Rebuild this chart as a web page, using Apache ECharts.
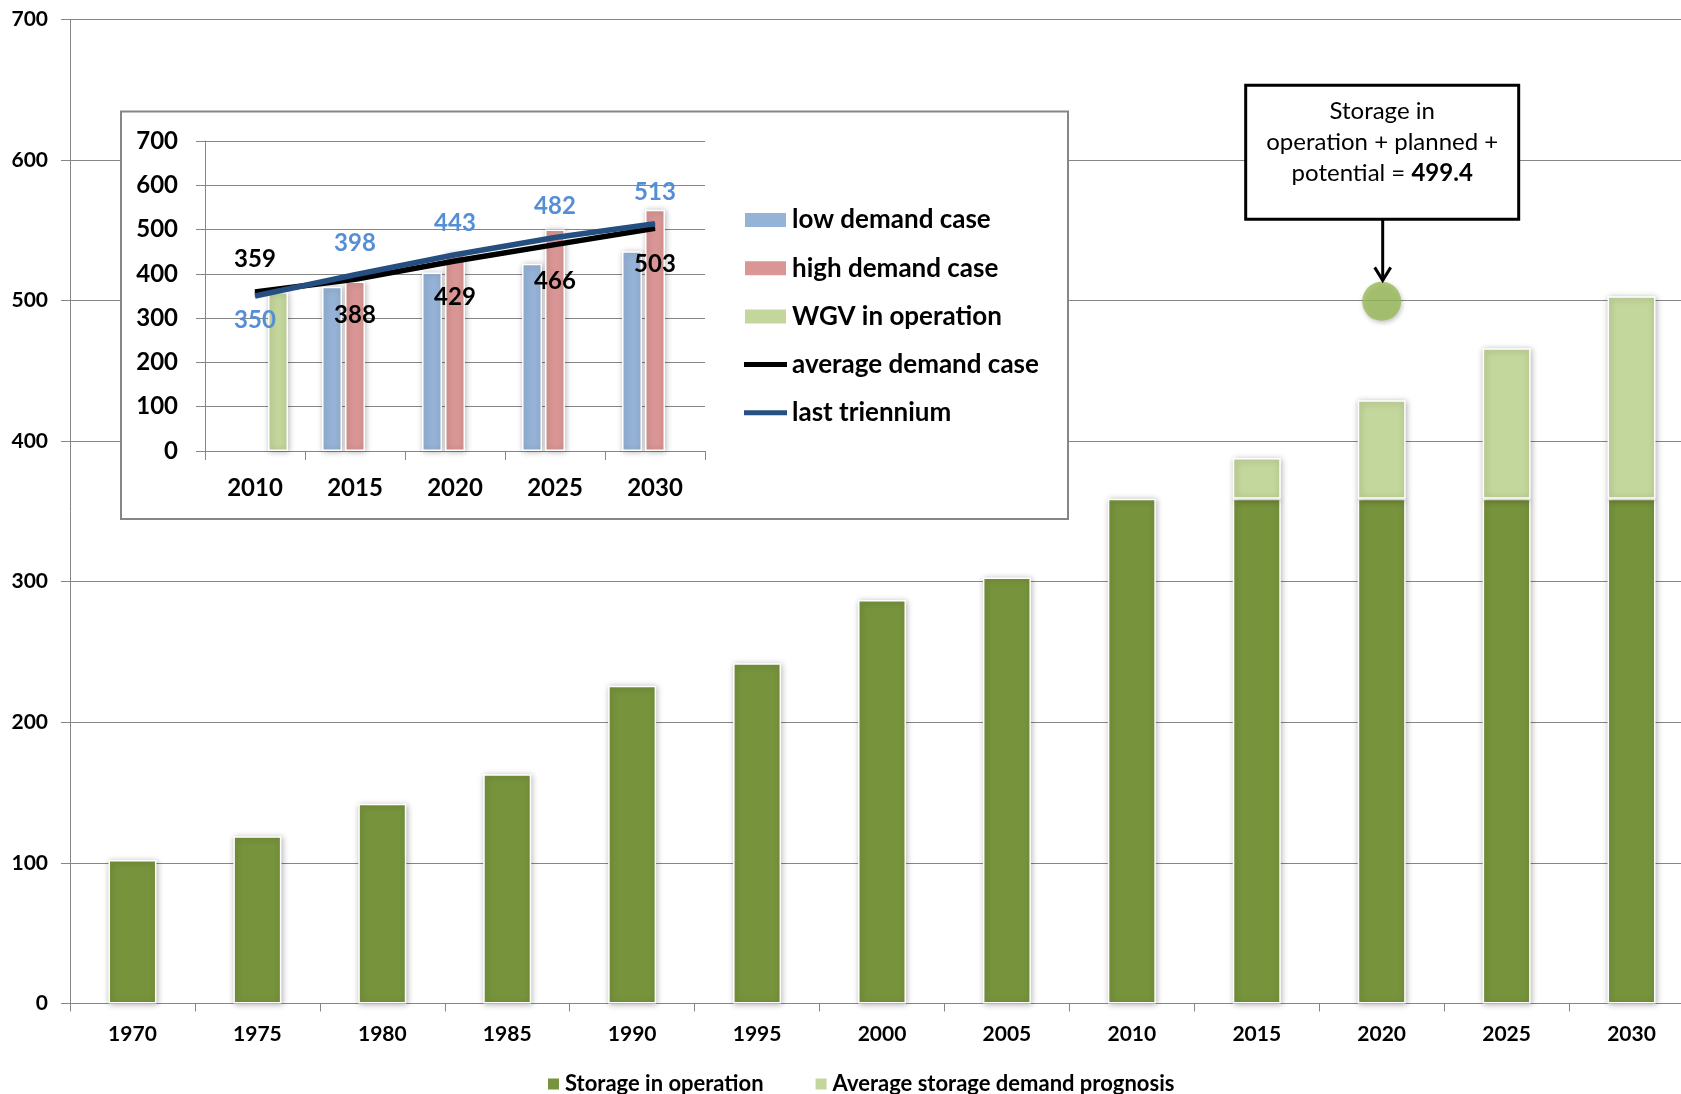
<!DOCTYPE html>
<html>
<head>
<meta charset="utf-8">
<title>Gas storage capacity</title>
<script src="https://cdn.jsdelivr.net/npm/echarts@6/dist/echarts.min.js"></script>
<style>
  html, body { margin: 0; padding: 0; background: #fff; }
  #chart { width: 1681px; height: 1094px; }
</style>
</head>
<body>
<div id="chart"></div>
<script>
// Main chart: storage capacity per year
const years = ['1970', '1975', '1980', '1985', '1990', '1995', '2000', '2005', '2010', '2015', '2020', '2025', '2030'];
const storageInOperation = [102, 119, 142, 163, 226, 242, 287, 303, 359, 359, 359, 359, 359];
const demandPrognosis = [null, null, null, null, null, null, null, null, null, 29, 70, 107, 144];
const mainTicks = [0, 100, 200, 300, 400, 500, 600, 700];

// Storage in operation + planned + potential
const potentialYear = '2020';
const potentialTotal = 499.4;

// Inset: demand scenarios
const insetYears = ['2010', '2015', '2020', '2025', '2030'];
const lowDemand = [null, 371, 403, 423, 451];
const highDemand = [null, 383, 446, 500, 545];
const wgvInOperation = [359, null, null, null, null];
const averageDemand = [359, 388, 429, 466, 503];
const lastTriennium = [350, 398, 443, 482, 513];

const FONT = 'Lato, "Open Sans", sans-serif';
const GRID_GREY = '#868686';
// legend swatch for the line series: a 5px stroke centred in a 43x16 box
const LINE_ICON = 'path://M0,0L43,0L43,0.01L0,0.01Z M0,5.5L43,5.5L43,10.5L0,10.5Z M0,15.99L43,15.99L43,16L0,16Z';

const barShadow = {
  borderColor: '#ffffff',
  borderWidth: 1.5,
  shadowBlur: 6,
  shadowColor: 'rgba(0,0,0,0.28)',
  shadowOffsetX: 1,
  shadowOffsetY: 1
};

// labels: most points use the default side, the first one flips
function withFirstLabel(values, position, distance) {
  return values.map((v, i) => i === 0 ? { value: v, label: { position: position, distance: distance } } : v);
}

const chart = echarts.init(document.getElementById('chart'), null, { renderer: 'canvas' });

const insetFrame = {
  type: 'rect',
  id: 'insetFrame',
  z: 1,
  shape: { x: 121, y: 111.5, width: 947, height: 407.5 },
  style: { fill: '#ffffff', stroke: GRID_GREY, lineWidth: 2 }
};

const option = {
  animation: false,
  backgroundColor: '#ffffff',
  textStyle: { fontFamily: FONT },
  grid: [
    { left: 70, top: 19.3, width: 1624, bottom: 90.5, outerBoundsMode: 'none', containLabel: false },
    { left: 205, top: 141, width: 500, height: 310, outerBoundsMode: 'none', containLabel: false }
  ],
  legend: [
    {
      data: ['Storage in operation', 'Average storage demand prognosis'],
      left: 546,
      top: 1073,
      padding: 0,
      itemWidth: 13,
      itemHeight: 13,
      itemGap: 50,
      icon: 'rect',
      textStyle: { fontFamily: FONT, fontWeight: 'bold', fontSize: 22, color: '#000' }
    },
    {
      data: [
        { name: 'low demand case', icon: 'rect' },
        { name: 'high demand case', icon: 'rect' },
        { name: 'WGV in operation', icon: 'rect' },
        { name: 'average demand case', icon: LINE_ICON },
        { name: 'last triennium', icon: LINE_ICON }
      ],
      orient: 'vertical',
      left: 743,
      top: 207,
      padding: 0,
      itemWidth: 43,
      itemHeight: 16,
      itemGap: 22.2,
      z: 6,
      textStyle: { fontFamily: FONT, fontWeight: 'bold', fontSize: 26, lineHeight: 26, color: '#000' }
    }
  ],
  xAxis: [
    {
      type: 'category',
      gridIndex: 0,
      data: years,
      axisLine: { show: true, lineStyle: { color: GRID_GREY, width: 1 } },
      axisTick: { show: true, length: 8, lineStyle: { color: GRID_GREY } },
      axisLabel: { margin: 20, fontFamily: FONT, fontWeight: 'bold', fontSize: 21, color: '#000' },
      splitLine: { show: false }
    },
    {
      type: 'category',
      gridIndex: 1,
      data: insetYears,
      z: 3,
      axisLine: { show: true, lineStyle: { color: GRID_GREY, width: 1 } },
      axisTick: { show: true, length: 9, lineStyle: { color: GRID_GREY } },
      axisLabel: { margin: 25, fontFamily: FONT, fontWeight: 'bold', fontSize: 24, color: '#000' },
      splitLine: { show: false }
    }
  ],
  yAxis: [
    {
      type: 'value',
      gridIndex: 0,
      min: mainTicks[0],
      max: mainTicks[mainTicks.length - 1],
      interval: 100,
      axisLine: { show: true, lineStyle: { color: GRID_GREY, width: 1 } },
      axisTick: { show: true, length: 9, lineStyle: { color: GRID_GREY } },
      axisLabel: { margin: 22, fontFamily: FONT, fontWeight: 'bold', fontSize: 21, color: '#000' },
      splitLine: { show: true, lineStyle: { color: GRID_GREY, width: 1 } }
    },
    {
      type: 'value',
      gridIndex: 1,
      min: 0,
      max: 700,
      interval: 100,
      z: 3,
      axisLine: { show: true, lineStyle: { color: GRID_GREY, width: 1 } },
      axisTick: { show: true, length: 9, lineStyle: { color: GRID_GREY } },
      axisLabel: { margin: 27, fontFamily: FONT, fontWeight: 'bold', fontSize: 24, color: '#000' },
      splitLine: { show: true, lineStyle: { color: GRID_GREY, width: 1 } }
    }
  ],
  series: [
    {
      name: 'Storage in operation',
      type: 'bar',
      xAxisIndex: 0, yAxisIndex: 0,
      stack: 'storage',
      barWidth: 48,
      data: storageInOperation,
      itemStyle: Object.assign({ color: '#77933C' }, barShadow),
      z: 2
    },
    {
      name: 'Average storage demand prognosis',
      type: 'bar',
      xAxisIndex: 0, yAxisIndex: 0,
      stack: 'storage',
      barWidth: 48,
      data: demandPrognosis,
      itemStyle: Object.assign({ color: '#C3D69B' }, barShadow),
      z: 2
    },
    {
      name: 'potential',
      type: 'scatter',
      xAxisIndex: 0, yAxisIndex: 0,
      symbolSize: 39,
      data: [[potentialYear, potentialTotal]],
      itemStyle: { color: '#9BBB59', shadowBlur: 5, shadowColor: 'rgba(0,0,0,0.3)', shadowOffsetX: 1, shadowOffsetY: 2 },
      z: 3
    },
    {
      name: 'low demand case',
      type: 'bar',
      xAxisIndex: 1, yAxisIndex: 1,
      barWidth: 20,
      barGap: '15%',
      data: lowDemand,
      itemStyle: Object.assign({ color: '#95B3D7' }, barShadow),
      z: 4
    },
    {
      name: 'high demand case',
      type: 'bar',
      xAxisIndex: 1, yAxisIndex: 1,
      barWidth: 20,
      barGap: '15%',
      data: highDemand,
      itemStyle: Object.assign({ color: '#D99694' }, barShadow),
      z: 4
    },
    {
      name: 'WGV in operation',
      type: 'bar',
      xAxisIndex: 1, yAxisIndex: 1,
      barWidth: 20,
      barGap: '15%',
      data: wgvInOperation,
      itemStyle: Object.assign({ color: '#C3D69B' }, barShadow),
      z: 4
    },
    {
      name: 'average demand case',
      type: 'line',
      xAxisIndex: 1, yAxisIndex: 1,
      symbol: 'circle',
      symbolSize: 1,
      showSymbol: true,
      data: withFirstLabel(averageDemand, 'top', 20),
      lineStyle: { color: '#000000', width: 5.5 },
      itemStyle: { color: '#000000' },
      label: { show: true, position: 'bottom', distance: 24, fontFamily: FONT, fontWeight: 'bold', fontSize: 24, color: '#000000' },
      z: 5
    },
    {
      name: 'last triennium',
      type: 'line',
      xAxisIndex: 1, yAxisIndex: 1,
      symbol: 'circle',
      symbolSize: 1,
      showSymbol: true,
      data: withFirstLabel(lastTriennium, 'bottom', 12),
      lineStyle: { color: '#254F80', width: 5.5 },
      itemStyle: { color: '#254F80' },
      label: { show: true, position: 'top', distance: 19, fontFamily: FONT, fontWeight: 'bold', fontSize: 24, color: '#558ED5' },
      z: 5
    }
  ],
  graphic: [insetFrame]
};

chart.setOption(option);

// Callout pointing at the planned + potential storage marker
const dot = chart.convertToPixel({ xAxisIndex: 0, yAxisIndex: 0 }, [potentialYear, potentialTotal]);
const boxW = 273, boxH = 134;
const boxX = dot[0] - 136, boxY = dot[1] - 216;
const arrowX = dot[0] + 1;
const arrowTipY = dot[1] - 21;

chart.setOption({
  graphic: [
    insetFrame,
    {
      type: 'rect',
      id: 'calloutBox',
      z: 10,
      shape: { x: boxX, y: boxY, width: boxW, height: boxH },
      style: { fill: '#ffffff', stroke: '#000000', lineWidth: 3 }
    },
    {
      type: 'text',
      id: 'calloutText',
      z: 11,
      x: boxX + boxW / 2,
      y: boxY + 10,
      style: {
        text: 'Storage in\noperation + planned +\npotential = {b|499.4}',
        fontFamily: FONT,
        fontSize: 24,
        lineHeight: 31,
        fill: '#000000',
        align: 'center',
        verticalAlign: 'top',
        rich: { b: { fontFamily: FONT, fontSize: 24, fontWeight: 'bold', lineHeight: 31, fill: '#000000' } }
      }
    },
    {
      type: 'line',
      id: 'calloutStem',
      z: 10,
      shape: { x1: arrowX, y1: boxY + boxH, x2: arrowX, y2: arrowTipY },
      style: { stroke: '#000000', lineWidth: 3 }
    },
    {
      type: 'polyline',
      id: 'calloutHead',
      z: 10,
      shape: { points: [[arrowX - 8, arrowTipY - 13], [arrowX, arrowTipY], [arrowX + 8, arrowTipY - 13]] },
      style: { stroke: '#000000', lineWidth: 3, fill: null }
    }
  ]
});
</script>
</body>
</html>
